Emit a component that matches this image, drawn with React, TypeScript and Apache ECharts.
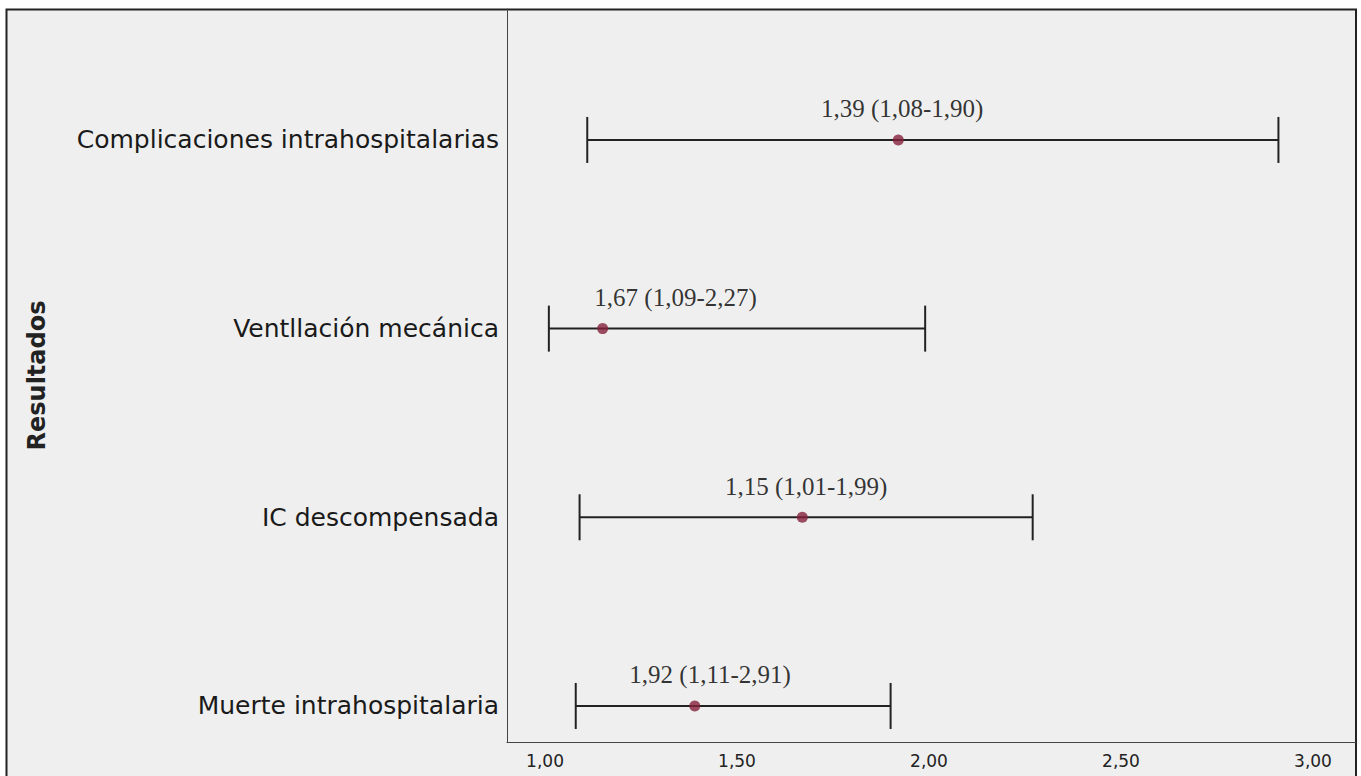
import React, { useEffect, useRef } from "react";
import * as echarts from "echarts";

// rows from bottom (1) to top (4)
const categories = [
  "Muerte intrahospitalaria",
  "IC descompensada",
  "Ventllación mecánica",
  "Complicaciones intrahospitalarias",
];
const estimates = [1.39, 1.67, 1.15, 1.92];
const lower = [1.08, 1.09, 1.01, 1.11];
const upper = [1.9, 2.27, 1.99, 2.91];
const labelTexts = [
  "1,92 (1,11-2,91)",
  "1,15 (1,01-1,99)",
  "1,67 (1,09-2,27)",
  "1,39 (1,08-1,90)",
];
const labelAt = [1.43, 1.68, 1.34, 1.93];
const xTicks = [1, 1.5, 2, 2.5, 3];
const yTicks = [1, 2, 3, 4];

export default function App() {
  const ref = useRef<HTMLDivElement>(null);
  useEffect(() => {
    document.body.style.margin = "0";
    const chart = echarts.init(ref.current!, null, { renderer: "svg" });
    const sans = "DejaVu Sans";
    chart.setOption({
      animation: false,
      backgroundColor: "#ffffff",
      graphic: [
        {
          type: "rect",
          z: -10,
          silent: true,
          shape: { x: 6.5, y: 9.5, width: 1349.5, height: 800 },
          style: { fill: "#efefef", stroke: "#222", lineWidth: 2 },
        },
      ],
      grid: { left: 507, right: 5, top: 9, bottom: 34, containLabel: false },
      xAxis: {
        type: "value",
        min: 0.901,
        max: 3.112,
        axisLine: { show: true, lineStyle: { color: "#444", width: 1 } },
        axisTick: { show: false },
        splitLine: { show: false },
        axisLabel: {
          customValues: xTicks,
          formatter: (v: number) => v.toFixed(2).replace(".", ","),
          fontFamily: sans,
          fontSize: 17,
          color: "#222",
          margin: 10,
        },
      },
      yAxis: {
        type: "value",
        min: 0.809,
        max: 4.694,
        name: "Resultados",
        nameLocation: "middle",
        nameRotate: 90,
        nameGap: 458,
        nameTextStyle: { fontFamily: sans, fontSize: 24, fontWeight: "bold", color: "#222" },
        axisLine: { show: true, lineStyle: { color: "#444", width: 1 } },
        axisTick: { show: false },
        splitLine: { show: false },
        axisLabel: {
          customValues: yTicks,
          formatter: (v: number) => categories[Math.round(v) - 1] ?? "",
          fontFamily: sans,
          fontSize: 25,
          color: "#1a1a1a",
          margin: 8,
        },
      },
      series: [
        {
          type: "custom",
          encode: { x: [1, 2], y: 0 },
          data: categories.map((_, i) => [i + 1, lower[i], upper[i]]),
          renderItem: (params: any, api: any) => {
            const y = api.value(0);
            const p1 = api.coord([api.value(1), y]);
            const p2 = api.coord([api.value(2), y]);
            const h = 23;
            const st = { stroke: "#222", lineWidth: 2 };
            return {
              type: "group",
              children: [
                { type: "line", shape: { x1: p1[0], y1: p1[1], x2: p2[0], y2: p2[1] }, style: st },
                { type: "line", shape: { x1: p1[0], y1: p1[1] - h, x2: p1[0], y2: p1[1] + h }, style: st },
                { type: "line", shape: { x1: p2[0], y1: p2[1] - h, x2: p2[0], y2: p2[1] + h }, style: st },
              ],
            };
          },
        },
        {
          type: "scatter",
          symbol: "circle",
          symbolSize: 11,
          itemStyle: { color: "#85223c" },
          data: estimates.map((v, i) => [v, i + 1]),
          z: 5,
        },
        {
          type: "scatter",
          symbolSize: 1,
          itemStyle: { color: "rgba(0,0,0,0)" },
          silent: true,
          data: labelAt.map((v, i) => [v, i + 1]),
          label: {
            show: true,
            position: "top",
            distance: 18,
            formatter: (p: any) => labelTexts[p.dataIndex],
            fontFamily: "Liberation Serif",
            fontSize: 25,
            color: "#000",
          },
        },
      ],
    });
    return () => chart.dispose();
  }, []);
  return (
    <div
      ref={ref}
      style={{ position: "fixed", left: 0, top: 0, width: 1361, height: 776 }}
    />
  );
}
